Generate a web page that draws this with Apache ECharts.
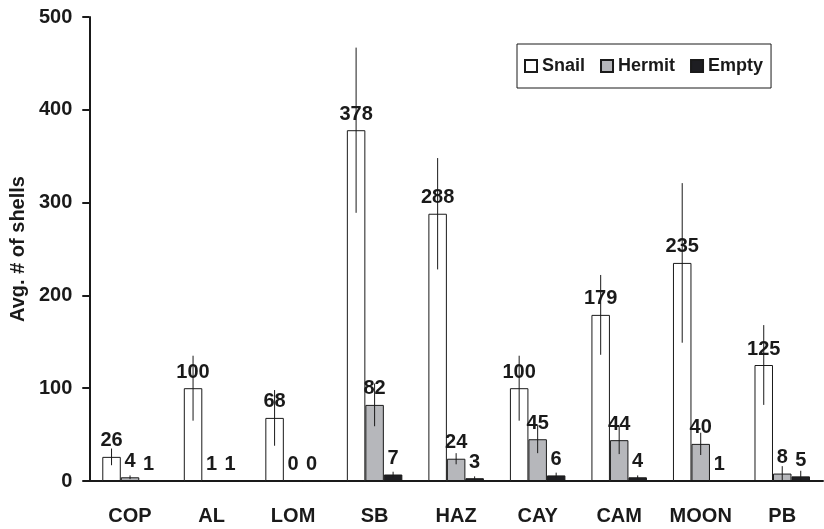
<!DOCTYPE html>
<html>
<head>
<meta charset="utf-8">
<script src="https://cdn.jsdelivr.net/npm/echarts@6/dist/echarts.min.js"></script>
<style>html,body{margin:0;padding:0;background:#fff}#c{width:824px;height:529px}</style>
</head>
<body>
<div id="c"></div>
<script>
var categories = ['COP', 'AL', 'LOM', 'SB', 'HAZ', 'CAY', 'CAM', 'MOON', 'PB'];
var snail = [26, 100, 68, 378, 288, 100, 179, 235, 125];
var hermit = [4, 1, 0, 82, 24, 45, 44, 40, 8];
var empty = [1, 1, 0, 7, 3, 6, 4, 1, 5];
var snailErr = [9, 35, 30, 89, 60, 35, 43, 86, 43];
var hermitErr = [2, 0, 0, 23, 6, 15, 15, 12, 8];
var emptyErr = [0, 0, 0, 3, 2, 3, 2, 0, 6];
var yTicks = [0, 100, 200, 300, 400, 500];

var FONT = '"Liberation Sans", Arial, sans-serif';
var BW = 18.5;
var chart = echarts.init(document.getElementById('c'));

function errSeries(vals, errs, slot) {
  return {
    type: 'custom',
    z: 10,
    silent: true,
    data: vals.map(function (v, i) { return [i, v, errs[i]]; }),
    renderItem: function (params, api) {
      var i = api.value(0), v = api.value(1), e = api.value(2);
      if (!e) return null;
      var hi = api.coord([i, v + e]);
      var lo = api.coord([i, v - e]);
      var x = hi[0] + slot * BW;
      return {
        type: 'line',
        shape: { x1: x, y1: hi[1], x2: x, y2: lo[1] },
        style: { stroke: '#1a1a1a', lineWidth: 1 }
      };
    }
  };
}

function barSeries(name, vals, color) {
  return {
    name: name,
    type: 'bar',
    data: vals,
    barWidth: BW,
    barGap: '0%',
    itemStyle: { color: color, borderColor: '#1a1a1a', borderWidth: 1 },
    label: {
      show: true, position: 'top', distance: 6,
      fontFamily: FONT, fontWeight: 'bold', fontSize: 20, color: '#1a1a1a'
    }
  };
}

chart.setOption({
  animation: false,
  backgroundColor: '#fff',
  grid: { left: 89, right: 1, top: 17, bottom: 48 },
  legend: {
    left: 517, top: 44,
    padding: [13, 8, 13, 7],
    borderColor: '#1a1a1a', borderWidth: 1,
    itemWidth: 12, itemHeight: 12, itemGap: 15,
    icon: 'rect',
    textStyle: { fontFamily: FONT, fontWeight: 'bold', fontSize: 18, color: '#1a1a1a' },
    data: ['Snail', 'Hermit', 'Empty']
  },
  xAxis: {
    type: 'category',
    data: categories,
    axisLine: { lineStyle: { color: '#1a1a1a', width: 2 } },
    axisTick: { length: 7, lineStyle: { color: '#1a1a1a', width: 2 } },
    axisLabel: { margin: 25, fontFamily: FONT, fontWeight: 'bold', fontSize: 20, color: '#1a1a1a' }
  },
  yAxis: {
    type: 'value',
    min: yTicks[0], max: yTicks[yTicks.length - 1], interval: 100,
    name: 'Avg. # of shells',
    nameLocation: 'middle', nameGap: 57,
    nameTextStyle: { fontFamily: FONT, fontWeight: 'bold', fontSize: 20, color: '#1a1a1a' },
    splitLine: { show: false },
    axisLine: { show: true, lineStyle: { color: '#1a1a1a', width: 2 } },
    axisTick: { show: true, length: 7, lineStyle: { color: '#1a1a1a', width: 2 } },
    axisLabel: { margin: 17, fontFamily: FONT, fontWeight: 'bold', fontSize: 20, color: '#1a1a1a' }
  },
  series: [
    barSeries('Snail', snail, '#ffffff'),
    barSeries('Hermit', hermit, '#b6b7bb'),
    barSeries('Empty', empty, '#1e1e22'),
    errSeries(snail, snailErr, -1),
    errSeries(hermit, hermitErr, 0),
    errSeries(empty, emptyErr, 1)
  ]
});
</script>
</body>
</html>
